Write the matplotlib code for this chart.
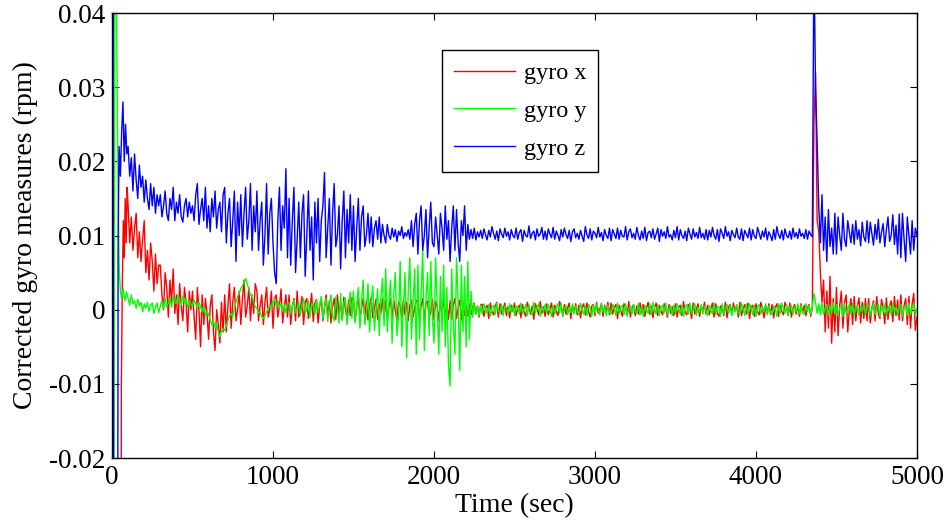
import matplotlib
matplotlib.use('Agg')
import matplotlib.pyplot as plt
import numpy as np
from matplotlib.ticker import FuncFormatter

plt.rcParams['font.family'] = ['Liberation Serif', 'DejaVu Serif']

# values in units of 0.001 rpm
# start-up transient (sec / value)
tx0 = [0, 55, 58, 64, 70, 76, 82, 88, 94]
gx0 = [-60, -60, -10, 3, 12, 7, 15, 9, 16.5]
ty0 = [0, 10, 18, 26, 36, 44, 52, 60, 70, 80, 90]
gy0 = [0, -60, 60, 45, 20, 6, 2.5, 1.5, 2.8, 1.2, 2.4]
tz0 = [0, 5, 12, 34, 38, 44, 52, 60, 68, 76, 84, 92]
gz0 = [0, 60, -60, -60, 10, 22, 18, 24, 28, 20, 25, 21]

# samples every 10 sec from t = 100 to 5000 (one row = 200 sec)
gx = [
    14, 9, 12.5, 8, 11, 13, 7, 10.5, 6.5, 9.5, 12, 5, 8, 4, 9, 6.5, 2.5, 7.5, 3.5, 6,
    6, 2, 0, 5, 3, -1, 4, 1, 5.5, -0.5, 2, -2, 3.5, 0.5, -1.5, 3, 1, -3, 2.5, 0,
    2.5, -1, -4, 3, 0, -5, 2, -2, 1.5, -0.5, -4, 0.5, 2, -3, -5.5, 0, -2, -4.5, 1, -3,
    2, -3, 0.5, 3.5, -2.5, 1, 3, -1.5, 0, 2.5, -2, 1.5, 4, -1, 0.5, 3, -1.5, 2, -0.5, 3.5,
    2.5, -1.5, 0.5, 2, -2, 1, 3, -1, 0, 2.5, -2.5, 1.5, 2, -1, 0.5, 2.8, -1.8, 0.2, 2, -1,
    2, -2, 0.5, 1.5, -1.5, 2.5, -1, 0, 1.8, -2, 1, 1.5, -1.2, 0.3, 2.2, -1.6, 0.8, 1.4, -1.8, 0.5,
    1.5, -1.5, 0.2, 2, -1, 1.2, -1.8, 0.4, 1.5, -1.3, 2, -0.6, 0.8, -1.4, 1.7, 0, -1.1, 1.3, -0.8, 1.6,
    1.3, -1.5, 0.5, 1.8, -1.2, 0.2, 1.5, -1, 1.2, -1.4, 0.6, 1.6, -1.1, 0.3, 1.4, -1.3, 0.8, -0.5, 1.5, -1.2,
    1.2, -1.3, 0.4, 1.5, -1.1, 1.3, -0.2, -1.4, 1.1, 0.5, -1.2, 1.4, -0.7, 1, -1.5, 0.6, 1.3, -1, 0.2, 1.2,
    1.3, -1.2, 0.5, 1.5, -1.4, 0.8, 1.2, -1.1, -0.3, 1.4, -1.3, 1.1, 0.4, -1.5, 1.2, -0.6, 1.5, -1, 0.7, -1.3,
    1.2, -1.3, 0.6, 1.5, -1.2, 0.3, 1.3, -1.4, 0.9, -0.8, 0.6, -0.9, 0.8, -0.7, 0.3, 0.9, -0.6, 0.5, -1.0, 0.7,
    0.7, -0.9, 0.2, 0.6, -1.2, 0.9, -0.3, -0.7, 0.5, 1.0, -1.0, 0.8, -0.6, 0.1, 0.9, -0.8, 0.4, -1.1, 0.6, -0.2,
    0.9, -0.8, 0.3, 0.6, -1.1, 0.7, -0.4, -0.9, 1.0, 0.2, -0.6, 0.5, -1.3, 0.8, 0.1, -0.7, 1.1, -0.5, 0.4, -0.9,
    0.8, -0.7, 0.1, 0.9, -1.0, 0.6, -0.3, -0.8, 1.1, 0.4, -0.9, 0.7, -0.6, 0.2, 0.9, -1.2, 0.5, -0.4, 0.8, -0.7,
    0.6, -1.1, 0.4, 0.8, -0.7, 0.9, -0.2, -1.0, 0.5, 0.7, -0.8, 1.0, -0.5, 0.1, 0.8, -0.9, 0.6, -0.3, 1.0, -0.7,
    0.9, -0.6, 0.3, 0.7, -1.2, 0.6, -0.1, -0.9, 0.8, 0.4, -0.7, 1.1, -1.0, 0.2, 0.7, -0.8, 0.5, -0.6, 0.9, -0.4,
    0.7, -0.9, 0.2, 1.0, -0.6, 0.5, -1.1, 0.3, 0.9, -0.8, 0.6, -0.2, -0.7, 0.8, 0.1, -1.0, 0.7, -0.5, 0.4, -0.8,
    0.8, -1.0, 0.3, 0.6, -0.8, 1.1, -0.4, -0.7, 0.7, 0.2, -1.2, 0.9, -0.6, 0.1, 0.8, -0.9, 0.5, -0.3, 1.0, -0.6,
    0.6, -0.7, 0.2, 0.9, -1.0, 0.8, -0.5, -0.9, 0.5, 0.3, -0.8, 1.0, -1.1, 0.4, 0.7, -0.6, 0.9, -0.2, 0.6, -1.0,
    1.0, -0.8, 0.1, 0.7, -0.6, 0.9, -1.2, 0.4, 0.6, -0.9, 0.8, -0.3, -0.7, 1.0, 0.2, -1.1, 0.5, -0.5, 0.8, -0.6,
    0.7, -1.1, 0.3, 0.8, -0.9, 0.6, -0.2, -0.7, 1.0, 0.4, -0.8, 0.9, -1.0, 0.2, 0.7, -0.6, 0.5, -0.9, 0.8, -0.4,
    0.6, -0.8, 0.3, 0.7, -0.9, 0.2, 25, 32, 12, 10.5, 5, 1, 4, -3, 2.5, -2.5, 4.5, -4.5, 1.5, -3,
    3, -3.5, 0.5, 2.5, -2.5, 1, 2, -3, 0, 1.5, -2, 1.8, -1.5, 0.5, 1.6, -1.8, 1, -1.2, 1.5, -1.5,
    1.5, -1.8, 0.3, 1.2, -1.5, 1.8, -0.6, -1.2, 1.4, 0.2, -1.9, 1.6, -1.3, 0.5, 1.2, -1.6, 1.8, -0.8, 1.3, -1.4,
    2, -1.5, 0.5, 1.5, -2, 1.8, -2.5, 0.8, 2.2, -2.8, -1,
]
gy = [
    1.5, 0.6, 2.0, 0.8, 1.2, 0.2, 1.4, 0.5, 1.0, -0.3, 0.8, 0.2, 1.0, -0.2, 0.6, 0.9, -0.5, 0.4, 0.9, -0.4,
    0.5, 1.2, 0.2, 1.6, 0.4, 0.9, 1.5, 0.3, 1.8, 1.0, 0.8, 2.0, 1.2, 0.6, 1.8, 0.9, 1.5, 0.3, 1.2, 0.7,
    0.5, 1.3, 0.8, 0.2, 1.0, 0.4, -0.3, 0.5, -0.8, -0.2, -0.6, -1.4, -2.0, -1.5, -2.4, -1.8, -3.0, -3.6, -2.9, -2.6,
    -2.8, -2.2, -1.5, -0.8, -0.5, -1.0, 0.2, 1.0, 1.8, 2.2, 2.8, 3.2, 3.6, 4.2, 3.5, 2.8, 2.0, 1.8, 1.0, 0.4,
    0.2, -0.5, -0.3, -1.0, -1.2, -0.8, -0.3, 0.2, 0.6, 0.2, 1.0, 1.4, 0.5, 1.2, 0.3, 0.8, -0.2, 0.6, -0.4, 0.9,
    0.9, -0.6, 0.4, 1.3, -0.4, 0.2, 1.0, -0.8, 0.6, 1.5, -0.5, 0.1, 1.2, -1.0, 0.5, 0.9, -0.7, 1.3, -0.3, 0.6,
    1.8, -1.2, 0.4, 1.5, -1.6, 0.6, 2.0, -0.8, -1.5, 1.7, 0.3, -1.8, 2.2, -1.4, 0.9, 1.6, -2.0, 0.2, 2.4, -1.2,
    2.5, -1.8, 0.5, 3.0, -2.5, 1.2, 4.0, -2.0, -0.5, 3.5, -3.0, 1.0, 3.2, -2.8, 0.3, 2.8, -3.5, 1.5, 4.2, -2.2,
    5.5, -3.0, 1.0, 4.0, -4.5, 2.0, 5.0, -3.5, -1.0, 6.5, -5.0, 0.5, 5.0, -6.5, 2.5, 7.0, -4.0, 0.8, 5.5, -6.0,
    6.0, -4.0, 2.0, 8.0, -5.5, 1.5, 5.0, -3.5, 6.5, -1.0, -4.5, 7.0, 0.5, -6.0, 4.5, -3.0, 6.0, -5.0, 3.0, -7.5,
    -10.3, 5.5, -2.0, -6.0, 7.0, 1.0, -8.2, 6.0, -3.0, 4.5, -5.0, 6.5, -4.0, 2.5, -1.0, 0.8, -0.6, 0.4, -0.8, 0.6,
    -0.6, 0.8, 0.1, -0.5, 0.7, -0.9, 0.3, 0.6, -0.7, 0.9, -0.2, -0.4, 0.7, -0.8, 0.5, 0.2, -0.6, 0.8, -0.3, 0.6,
    -0.8, 0.5, 0.2, -0.6, 0.9, -0.5, 0.1, 0.7, -0.8, 0.6, -0.3, -0.7, 1.0, -0.4, 0.3, 0.8, -0.9, 0.4, -0.2, 0.7,
    -0.5, 0.7, 0.0, -0.9, 0.6, -0.6, 0.4, 0.8, -0.5, 0.9, -0.8, 0.2, 0.6, -0.7, 0.3, -0.4, 0.8, -0.6, 0.5, -0.2,
    -0.7, 0.9, -0.1, -0.6, 0.5, -0.8, 0.7, 0.2, -0.9, 0.6, -0.5, 0.8, 0.1, -0.7, 0.9, -0.3, 0.4, -0.8, 0.6, -0.4,
    -0.6, 0.7, 0.2, -0.8, 0.9, -0.5, 0.3, 0.6, -0.7, 0.8, -0.9, 0.1, 0.5, -0.6, 0.7, -0.2, -0.5, 0.9, -0.7, 0.4,
    -0.9, 0.6, 0.0, -0.5, 0.8, -0.7, 1.0, 0.2, -0.6, 0.7, -0.8, 0.3, 0.6, -0.4, 0.9, -0.7, 0.1, 0.5, -0.8, 0.6,
    -0.5, 0.8, 0.2, -0.7, 0.6, -0.9, 0.4, 0.7, -0.6, 0.9, -0.5, 0.1, 0.8, -0.8, 0.3, -0.3, 0.7, -0.6, 0.5, -0.2,
    -0.8, 0.6, -0.1, -0.6, 0.9, -0.7, 0.5, 0.3, -0.9, 0.8, -0.6, 0.2, 0.7, -0.5, 0.6, -0.8, 0.4, -0.3, 0.7, -0.5,
    -0.6, 0.9, 0.1, -0.8, 0.7, -0.5, 0.8, 0.2, -0.7, 0.6, -0.9, 0.4, 0.7, -0.6, 0.3, -0.2, 0.8, -0.7, 0.5, -0.4,
    -0.7, 0.5, 0.2, -0.9, 0.8, -0.6, 0.9, 0.1, -0.5, 0.7, -0.8, 0.3, 0.6, -0.7, 0.4, -0.3, 0.8, -0.6, 0.6, -0.5,
    -0.6, 0.8, -0.2, 0.6, -0.7, 0.3, 2.2, 1.0, -0.5, 0.8, -0.7, 0.9, -0.6, 0.2, 0.7, -0.8, 0.5, -0.4, 0.9, -0.6,
    0.7, -0.8, 0.2, 0.6, -0.9, 0.8, -0.5, 0.1, 0.7, -0.6, 0.9, -0.7, 0.3, 0.6, -0.8, 0.4, -0.2, 0.8, -0.7, 0.5,
    0.6, -0.8, 0.1, 0.9, -0.6, 0.4, 0.7, -0.9, 0.5, -0.3, 0.8, -0.7, 0.2, 0.6, -0.8, 0.9, -0.4, 0.3, -0.7, 0.6,
    0.7, -0.9, 0.3, 0.6, -0.8, 0.9, -0.7, 0.2, 0.8, -0.6, 0.1,
]
gz = [
    22, 18, 20.5, 16, 21, 17.5, 15, 19.5, 16.5, 18, 14.5, 17.5, 15, 13.5, 17, 14, 16.5, 13, 15.5, 14,
    15.5, 12.5, 14, 16, 13, 12, 15, 13.5, 16.5, 12, 14.5, 13, 15.5, 12.5, 11.8, 14, 15, 12.5, 14.5, 13,
    14, 12, 15.5, 17, 11.5, 13.5, 15, 12, 16.5, 11, 14, 10.5, 15, 12.5, 16, 11, 13.5, 14.5, 10.5, 15.5,
    16.5, 9, 13, 15, 8.5, 12, 16, 6.5, 14.5, 10, 15.5, 8.5, 13, 16.5, 9.5, 12, 17, 8, 14, 10.5,
    16, 8, 12, 14.5, 6, 10, 17, 7.5, 13, 15, 9, 5, 3.5, 12, 16.5, 8, 14, 11, 19, 7,
    15, 6, 12, 16.5, 5, 9.5, 14.5, 7, 13, 15.5, 4.5, 10, 16, 8, 12.5, 4, 14.5, 9, 15, 6.5,
    12, 14, 18.5, 7, 11, 15, 6, 13, 17, 8.5, 10, 14, 5.5, 12, 16, 7, 13.5, 9, 15.5, 8,
    14, 6.5, 11, 15, 8, 12.5, 14, 8.5, 10, 13, 9, 12.5, 8.5, 11, 12, 9.5, 12.5, 9, 11.5, 10,
    9, 11.5, 10, 9.5, 11, 9.8, 10.8, 9.2, 10.6, 10, 11.2, 9.6, 10.4, 9.9, 10.8, 9.5, 12, 8.5, 11.5, 13,
    7.5, 12, 14, 8, 10, 13.5, 7, 11, 14.5, 9, 8.5, 12.5, 10, 7.5, 13, 11, 8, 14, 9.5, 12,
    6.5, 11, 14, 8, 13.5, 9, 6.5, 12, 10, 14, 8, 11.5, 9.5, 10.8, 9.6, 11, 9.4, 10.5, 9.8, 10.7,
    9.6, 10.9, 10.1, 9.4, 10.7, 9.8, 11.2, 10.3, 9.5, 10.6, 9.3, 10.9, 10.2, 9.7, 11.0, 9.9, 10.5, 9.4, 10.8, 10.0,
    9.7, 11.0, 9.5, 10.4, 10.8, 9.2, 10.7, 10.0, 9.8, 11.3, 9.6, 10.3, 10.6, 9.4, 10.9, 9.9, 10.2, 11.1, 9.5, 10.6,
    9.4, 10.9, 10.2, 9.7, 11.1, 9.5, 10.6, 10.0, 9.3, 10.8, 9.8, 11.0, 10.1, 9.6, 10.7, 9.2, 10.5, 10.9, 9.7, 10.3,
    9.5, 10.7, 9.9, 9.2, 11.2, 10.1, 9.6, 10.9, 9.4, 10.6, 10.3, 9.7, 11.1, 9.8, 10.4, 9.3, 10.8, 10.0, 9.6, 11.0,
    9.3, 10.8, 10.2, 9.6, 11.0, 9.5, 10.7, 9.9, 9.8, 11.2, 9.4, 10.5, 10.9, 9.7, 10.3, 9.5, 11.1, 10.0, 9.4, 10.6,
    9.6, 11.1, 9.3, 10.4, 10.6, 9.7, 10.9, 9.5, 10.2, 11.0, 9.2, 10.8, 9.9, 10.5, 9.6, 11.2, 9.8, 10.1, 9.4, 10.7,
    9.7, 11.2, 9.4, 10.8, 10.0, 9.6, 10.6, 9.3, 11.0, 10.2, 9.5, 10.9, 9.8, 10.4, 9.6, 11.1, 9.7, 10.3, 9.5, 10.8,
    9.4, 10.7, 9.8, 11.1, 10.0, 9.5, 10.8, 9.2, 10.9, 10.3, 9.6, 11.2, 9.9, 10.5, 9.3, 10.7, 10.1, 9.7, 11.0, 9.8,
    9.5, 10.9, 9.3, 10.7, 10.2, 9.7, 11.0, 9.4, 10.8, 9.9, 9.6, 11.1, 10.3, 9.5, 10.6, 9.8, 11.0, 9.4, 10.5, 10.0,
    9.3, 10.8, 9.5, 11.2, 10.1, 9.6, 10.7, 9.4, 10.9, 10.0, 9.7, 10.6, 9.5, 11.0, 9.8, 10.4, 9.6, 10.9, 9.9, 10.3,
    9.6, 10.8, 9.5, 10.6, 10.1, 9.8, 48, 30, 22.5, 14, 9, 15.5, 8, 12.5, 6.5, 13.5, 8.5, 11, 7.5, 13,
    7.5, 12.5, 10, 8, 13, 9.5, 8.5, 12, 10.5, 9, 11.5, 8.8, 12, 9.5, 10.8, 8.6, 11.8, 9.8, 9.2, 12,
    9, 11.8, 10.2, 8.7, 11.5, 9.5, 12.2, 9, 10.5, 11.6, 8.5, 10.8, 12.5, 9.2, 10, 12.8, 8.8, 11.4, 7.5, 12.9,
    7, 13, 9.5, 6.5, 12.5, 10, 7.5, 12, 8, 11, 10,
]

series = [(tx0, gx0, gx, 'gyro x', '#ff0000'),
          (ty0, gy0, gy, 'gyro y', '#00ff00'),
          (tz0, gz0, gz, 'gyro z', '#0000ff')]

fig = plt.figure(figsize=(9.46, 5.27), dpi=100)
ax = fig.add_axes([0.1184, 0.1309, 0.8509, 0.8444])

for t0, v0, v, name, col in series:
    t = np.concatenate([t0, 100 + 10 * np.arange(len(v))])
    y = np.concatenate([v0, v]) / 1000.0
    ax.plot(t, y, color=col, lw=1.0, label=name)

ax.set_xlim(0, 5000)
ax.set_ylim(-0.02, 0.04)
ax.set_xticks([0, 1000, 2000, 3000, 4000, 5000])
ax.set_yticks([-0.02, -0.01, 0, 0.01, 0.02, 0.03, 0.04])
ax.yaxis.set_major_formatter(FuncFormatter(lambda v, p: '%g' % round(v, 3)))
ax.tick_params(direction='in', top=True, right=True, length=5, width=0.8,
               labelsize=19.5, pad=5)
for s in ax.spines.values():
    s.set_linewidth(1.0)

ax.set_xlabel('Time (sec)', fontsize=20, labelpad=2)
ax.set_ylabel('Corrected gyro measures (rpm)', fontsize=20, labelpad=8)

leg = ax.legend(loc='upper left', bbox_to_anchor=(0.41, 0.917), fontsize=17.5,
                fancybox=False, framealpha=1, edgecolor='black',
                handlelength=2.5, handletextpad=0.36, labelspacing=0.65,
                borderpad=0.5, borderaxespad=0)
leg.get_frame().set_linewidth(1.0)
for ln in leg.get_lines():
    ln.set_linewidth(1.0)

fig.savefig('out.png', dpi=100)
